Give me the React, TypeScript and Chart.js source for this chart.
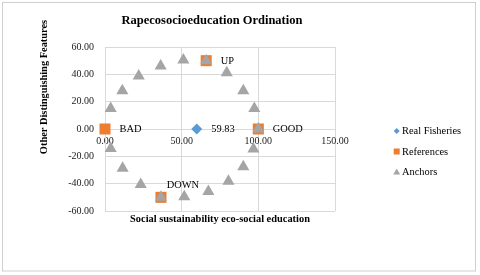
import React, { useEffect, useRef } from 'react';
import { Chart, registerables } from 'chart.js';

Chart.register(...registerables);

// ---- data ----
const chartTitle = 'Rapecosocioeducation Ordination';
const xAxisTitle = 'Social sustainability eco-social education';
const yAxisTitle = 'Other Distinguishing Features';

const seriesNames = ['Real Fisheries', 'References', 'Anchors'];

const fisheryX = [59.83];
const fisheryY = [0];
const fisheryLabels = ['59.83'];

const referenceLabels = ['BAD', 'GOOD', 'UP', 'DOWN'];
const referenceX = [0, 100, 66, 36.5];
const referenceY = [0, 0, 50, -50];

const anchorX = [3.7, 11.3, 22.0, 36.3, 51.1, 66.0, 79.4, 90.2, 97.4, 100, 96.8, 90.2, 80.5, 67.4, 51.7, 36.5, 23.3, 11.5, 3.7];
const anchorY = [15.0, 28.0, 38.8, 46.1, 50.5, 50.0, 41.1, 28.0, 15.0, 0, -14.6, -27.6, -38.2, -45.8, -49.5, -50.0, -40.7, -28.7, -14.2];

const xTicks = [0, 50, 100, 150];
const yTicks = [-60, -40, -20, 0, 20, 40, 60];

// ---- styles ----
const FONT = "'Liberation Serif', 'Times New Roman', serif";
const BLUE = '#5B9BD5';
const ORANGE = '#ED7D31';
const GRAY = '#A5A5A5';
const GRID = '#d9d9d9';

const toPoints = (xs: number[], ys: number[]) => xs.map((x, i) => ({ x, y: ys[i] }));

const framePlugin = {
  id: 'frame',
  beforeDraw(chart: any) {
    const ctx = chart.ctx;
    ctx.save();
    ctx.fillStyle = '#ffffff';
    ctx.fillRect(0, 0, chart.width, chart.height);
    ctx.strokeStyle = '#cfcfcf';
    ctx.lineWidth = 1;
    ctx.strokeRect(2.5, 2.5, 473, 268.5);
    ctx.restore();
  },
};

const labelPlugin = {
  id: 'texts',
  afterDraw(chart: any) {
    const ctx = chart.ctx;
    ctx.save();
    ctx.fillStyle = '#000';
    ctx.textBaseline = 'middle';

    // title
    ctx.font = `bold 12.5px ${FONT}`;
    ctx.textAlign = 'center';
    ctx.fillText(chartTitle, 212, 21);

    // axis titles
    ctx.font = `bold 10.4px ${FONT}`;
    ctx.fillText(xAxisTitle, (chart.chartArea.left + chart.chartArea.right) / 2, 219.5);
    ctx.save();
    ctx.translate(44, 87);
    ctx.rotate(-Math.PI / 2);
    ctx.fillText(yAxisTitle, 0, 0);
    ctx.restore();

    // data labels
    ctx.font = `10.4px ${FONT}`;
    const labelSets = [fisheryLabels, referenceLabels];
    labelSets.forEach((labels, di) => {
      const meta = chart.getDatasetMeta(di);
      meta.data.forEach((pt: any, i: number) => {
        const text = labels[i];
        if (!text) return;
        if (text === 'DOWN') {
          ctx.textAlign = 'center';
          ctx.fillText(text, pt.x + 22, pt.y - 12.5);
        } else {
          ctx.textAlign = 'left';
          ctx.fillText(text, pt.x + 14.5, pt.y + 0.5);
        }
      });
    });

    // legend
    const lx = 396.7;
    const ly = [131, 151.5, 172];
    ctx.textAlign = 'left';
    ctx.font = `10.4px ${FONT}`;
    // diamond
    ctx.fillStyle = BLUE;
    ctx.beginPath();
    ctx.moveTo(lx, ly[0] - 3);
    ctx.lineTo(lx + 3, ly[0]);
    ctx.lineTo(lx, ly[0] + 3);
    ctx.lineTo(lx - 3, ly[0]);
    ctx.closePath();
    ctx.fill();
    // square
    ctx.fillStyle = ORANGE;
    ctx.fillRect(lx - 3, ly[1] - 3, 6, 6);
    // triangle
    ctx.fillStyle = GRAY;
    ctx.beginPath();
    ctx.moveTo(lx, ly[2] - 3.5);
    ctx.lineTo(lx + 3.5, ly[2] + 2.5);
    ctx.lineTo(lx - 3.5, ly[2] + 2.5);
    ctx.closePath();
    ctx.fill();
    ctx.fillStyle = '#000';
    seriesNames.forEach((n, i) => ctx.fillText(n, 402, ly[i] + 0.5));

    ctx.restore();
  },
};

export default function App() {
  const ref = useRef<HTMLCanvasElement | null>(null);

  useEffect(() => {
    if (!ref.current) return;
    const chart = new Chart(ref.current, {
      type: 'scatter',
      data: {
        datasets: [
          {
            label: seriesNames[0],
            data: toPoints(fisheryX, fisheryY),
            pointStyle: 'rectRot',
            pointRadius: 5.5,
            pointBackgroundColor: BLUE,
            pointBorderWidth: 0,
            order: 3,
            clip: false,
          },
          {
            label: seriesNames[1],
            data: toPoints(referenceX, referenceY),
            pointStyle: 'rect',
            pointRadius: 7.8,
            pointBackgroundColor: ORANGE,
            pointBorderWidth: 0,
            order: 2,
            clip: false,
          },
          {
            label: seriesNames[2],
            data: toPoints(anchorX, anchorY),
            pointStyle: 'triangle',
            pointRadius: 7,
            pointBackgroundColor: GRAY,
            pointBorderWidth: 0,
            order: 1,
            clip: false,
          },
        ] as any,
      },
      options: {
        animation: false,
        responsive: false,
        events: [],
        layout: { padding: { left: 0, right: 145, top: 47, bottom: 64 } },
        plugins: {
          legend: { display: false },
          title: { display: false },
          tooltip: { enabled: false },
        },
        scales: {
          x: {
            type: 'linear',
            position: { y: 0 } as any,
            min: 0,
            max: 150,
            afterBuildTicks: (s: any) => {
              s.ticks = xTicks.map((v) => ({ value: v }));
            },
            grid: { color: GRID, drawTicks: false },
            border: { color: GRID },
            ticks: {
              padding: 6,
              color: '#1a1a1a',
              font: { family: FONT, size: 10 },
              callback: (v: any) => Number(v).toFixed(2),
              maxRotation: 0,
            },
          },
          y: {
            type: 'linear',
            position: 'left',
            min: -60,
            max: 60,
            afterBuildTicks: (s: any) => {
              s.ticks = yTicks.map((v) => ({ value: v }));
            },
            afterFit: (s: any) => {
              s.width = 105;
            },
            grid: { color: GRID, drawTicks: false },
            border: { color: GRID },
            ticks: {
              padding: 11,
              color: '#1a1a1a',
              font: { family: FONT, size: 10 },
              callback: (v: any) => Number(v).toFixed(2),
            },
          },
        },
      },
      plugins: [framePlugin, labelPlugin],
    });
    return () => chart.destroy();
  }, []);

  return (
    <div style={{ position: 'absolute', left: 0, top: 0, width: 480, height: 275 }}>
      <canvas ref={ref} width={480} height={275} style={{ display: 'block' }} />
    </div>
  );
}
